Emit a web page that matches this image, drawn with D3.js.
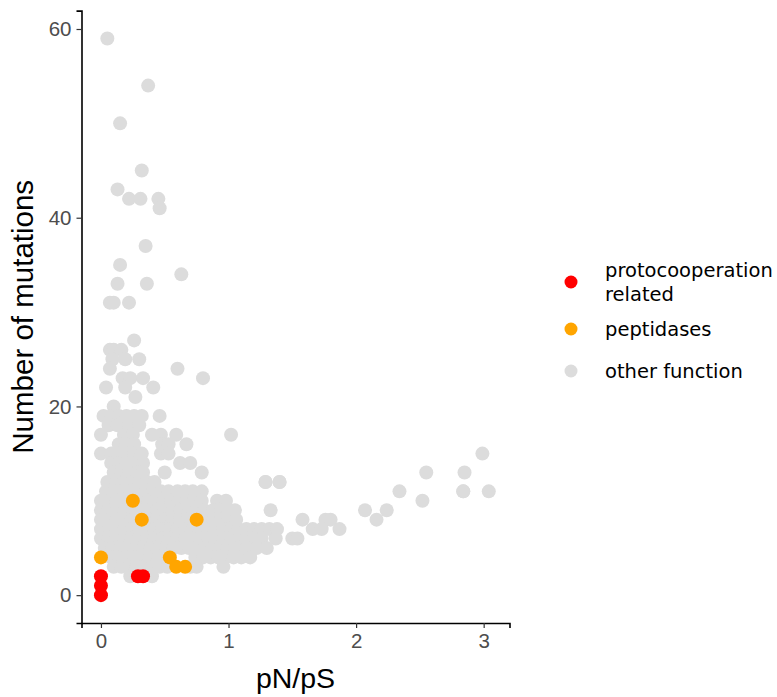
<!DOCTYPE html>
<html>
<head>
<meta charset="utf-8">
<script src="https://cdn.jsdelivr.net/npm/d3@7"></script>
<style>
  body { margin: 0; background: #fff; }
  .tick text { font-family: "Liberation Sans", Arial, sans-serif; fill: #4d4d4d; }
  .axis-title { font-family: "Liberation Sans", Arial, sans-serif; fill: #000; }
  .legend text { font-family: "DejaVu Sans", sans-serif; fill: #000; }
</style>
</head>
<body>
<div id="chart"></div>
<script>
(function () {'use strict';

// other function: rows of [mutations, [pN/pS values]]
var otherRows = [
    [59, [0.05]],
    [54, [0.37]],
    [50, [0.15]],
    [45, [0.32]],
    [43, [0.13]],
    [42, [0.22, 0.31, 0.45]],
    [41, [0.46]],
    [37, [0.35]],
    [35, [0.15]],
    [34, [0.63]],
    [33, [0.13, 0.36]],
    [31, [0.07, 0.10, 0.22]],
    [27, [0.26]],
    [26, [0.07, 0.10, 0.16]],
    [25, [0.09, 0.19, 0.30]],
    [24, [0.07, 0.60]],
    [23, [0.17, 0.23, 0.33, 0.80]],
    [22, [0.04, 0.19, 0.41]],
    [21, [0.27]],
    [20, [0.10]],
    [19, [0.02, 0.08, 0.14, 0.20, 0.26, 0.32, 0.46]],
    [18, [0.06, 0.13, 0.22, 0.30]],
    [17, [0.00, 0.18, 0.25, 0.40, 0.47, 0.59, 1.02]],
    [16, [0.14, 0.20, 0.26, 0.48, 0.53, 0.67]],
    [15, [0.00, 0.08, 0.14, 0.20, 0.26, 0.32, 0.47, 0.53]],
    [14, [0.08, 0.14, 0.20, 0.26, 0.33, 0.62, 0.70]],
    [13, [0.10, 0.16, 0.22, 0.28, 0.33, 0.50, 0.79]],
    [12, [0.05, 0.12, 0.18, 0.24, 0.30, 0.36, 0.42, 1.29, 1.40]],
    [11, [0.04, 0.10, 0.17, 0.23, 0.29, 0.35, 0.41, 0.47, 0.53, 0.60, 0.66, 0.72, 0.79, 2.34, 2.84, 3.04]],
    [10, [0.00, 0.06, 0.12, 0.18, 0.31, 0.37, 0.43, 0.49, 0.55, 0.61, 0.67, 0.73, 0.79, 0.91, 0.98, 2.52]],
    [9,  [0.00, 0.06, 0.12, 0.19, 0.25, 0.31, 0.37, 0.44, 0.50, 0.56, 0.62, 0.69, 0.75, 0.81, 0.88, 0.94, 1.00, 1.05, 1.33, 2.07, 2.24]],
    [8,  [0.00, 0.06, 0.12, 0.18, 0.24, 0.38, 0.44, 0.50, 0.56, 0.62, 0.68, 0.82, 0.88, 0.94, 1.00, 1.06, 1.58, 1.76, 1.80, 2.16]],
    [7,  [0.00, 0.06, 0.12, 0.18, 0.24, 0.30, 0.36, 0.42, 0.48, 0.54, 0.60, 0.66, 0.72, 0.78, 0.84, 0.90, 0.96, 1.02, 1.08, 1.14, 1.20, 1.26, 1.32, 1.38, 1.66, 1.73, 1.87]],
    [6,  [0.00, 0.06, 0.12, 0.18, 0.24, 0.30, 0.36, 0.42, 0.48, 0.54, 0.60, 0.66, 0.72, 0.78, 0.84, 0.90, 0.96, 1.02, 1.08, 1.14, 1.20, 1.26, 1.37, 1.50, 1.54]],
    [5,  [0.03, 0.09, 0.15, 0.21, 0.27, 0.33, 0.39, 0.45, 0.51, 0.57, 0.63, 0.69, 0.75, 0.81, 0.87, 0.93, 0.99, 1.05, 1.14, 1.22, 1.30]],
    [4,  [0.08, 0.14, 0.20, 0.26, 0.32, 0.38, 0.45, 0.74, 0.80, 0.86, 0.92, 0.98, 1.04, 1.10, 1.17]],
    [3,  [0.10, 0.16, 0.22, 0.28, 0.34, 0.40, 0.46, 0.52, 0.70, 0.75, 0.96]],
    [2,  [0.23, 0.40]]
];

// extra far-right points (x, y)
var tailX = [1.29, 1.40, 2.55, 2.85, 2.99, 2.84];
var tailY = [12,   12,   13,   13,   15,   11];

var peptidaseX = [0.00, 0.25, 0.32, 0.75, 0.54, 0.59, 0.66];
var peptidaseY = [4,    10,   8,    8,    4,    3,    3];

var protoX = [0.00, 0.00, 0.00, 0.29, 0.33];
var protoY = [0,    1,    2,    2,    2];

var groups  = ['protocooperation related', 'peptidases', 'other function'];
var legendLines = [['protocooperation', 'related'], ['peptidases'], ['other function']];
var colors  = ['#ff0000', '#ffa500', '#dcdcdc'];

var xTicks = [0, 1, 2, 3];
var yTicks = [0, 20, 40, 60];

var width = 777,
    height = 697,
    margin = {top: 10.6, right: 267.5, bottom: 74, left: 81.5},
    plotW = width - margin.left - margin.right,
    plotH = height - margin.top - margin.bottom,
    r = 7;

var x = d3.scaleLinear().domain([-0.1525, 3.2025]).range([0, plotW]),
    y = d3.scaleLinear().domain([-2.95, 61.95]).range([plotH, 0]);

// flatten rows into points
var points = [];
otherRows.forEach(function (row) {
    row[1].forEach(function (v) { points.push({x: v, y: row[0], g: 2}); });
});
tailX.forEach(function (v, i) { points.push({x: v, y: tailY[i], g: 2}); });
peptidaseX.forEach(function (v, i) { points.push({x: v, y: peptidaseY[i], g: 1}); });
protoX.forEach(function (v, i) { points.push({x: v, y: protoY[i], g: 0}); });

var svg = d3.select('#chart')
    .append('svg')
        .attr('width', width)
        .attr('height', height);

var chart = svg.append('g')
    .attr('transform', 'translate(' + margin.left + ',' + margin.top + ')');

/*
 * POINTS
 */
chart.append('g')
    .selectAll('circle')
    .data(points)
    .enter().append('circle')
        .attr('cx', function (d) { return x(d.x); })
        .attr('cy', function (d) { return y(d.y); })
        .attr('r', r)
        .attr('fill', function (d) { return colors[d.g]; });

/*
 * AXES
 */
var xAxis = chart.append('g')
    .attr('transform', 'translate(0,' + plotH + ')')
    .call(d3.axisBottom(x).tickValues(xTicks).tickFormat(d3.format('d')).tickSize(5).tickPadding(5));

var yAxis = chart.append('g')
    .call(d3.axisLeft(y).tickValues(yTicks).tickFormat(d3.format('d')).tickSize(5).tickPadding(5));

[xAxis, yAxis].forEach(function (ax) {
    ax.select('.domain').attr('stroke', '#000').attr('stroke-width', 1.6);
    ax.selectAll('.tick line').attr('stroke', '#333').attr('stroke-width', 1.2);
    ax.selectAll('.tick text').style('font-size', '20.5px');
});

svg.append('text')
    .attr('class', 'axis-title')
    .attr('x', margin.left + plotW / 2)
    .attr('y', 688)
    .attr('text-anchor', 'middle')
    .style('font-size', '28.5px')
    .text('pN/pS');

svg.append('text')
    .attr('class', 'axis-title')
    .attr('transform', 'translate(33,' + (margin.top + plotH / 2) + ') rotate(-90)')
    .attr('text-anchor', 'middle')
    .style('font-size', '29.5px')
    .text('Number of mutations');

/*
 * LEGEND
 */
var legendY = [282, 329, 371];
var legend = svg.append('g').attr('class', 'legend');

groups.forEach(function (g, i) {
    legend.append('circle')
        .attr('cx', 571)
        .attr('cy', legendY[i])
        .attr('r', 6.5)
        .attr('fill', colors[i]);

    var lines = legendLines[i];
    var t = legend.append('text')
        .attr('x', 605)
        .attr('y', legendY[i] - (lines.length - 1) * 12)
        .style('font-size', '19.5px');
    lines.forEach(function (line, j) {
        t.append('tspan')
            .attr('x', 605)
            .attr('dy', j === 0 ? '0.35em' : '1.22em')
            .text(line);
    });
});

})();
</script>
</body>
</html>
